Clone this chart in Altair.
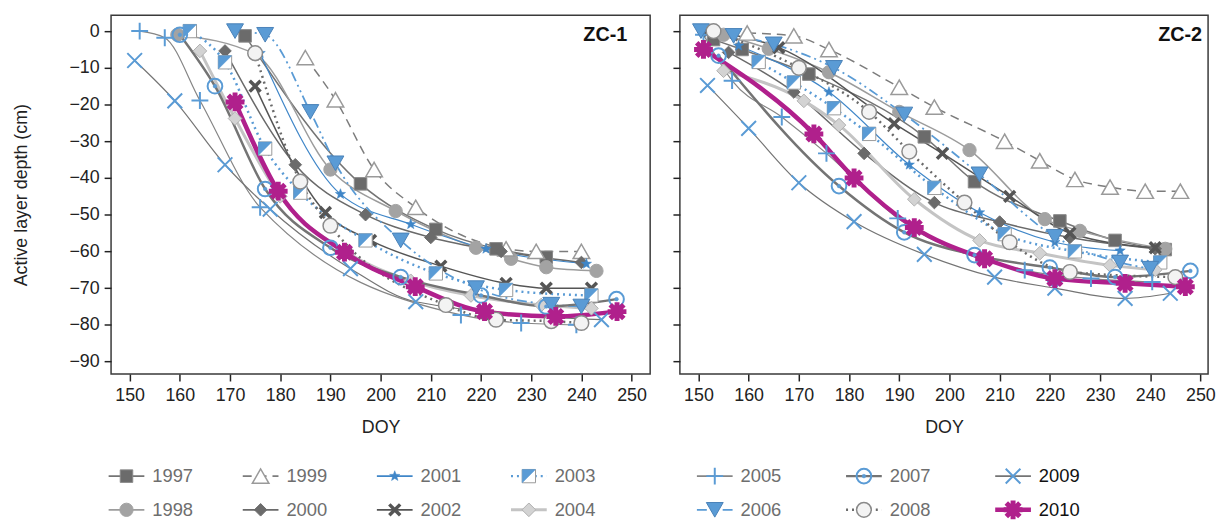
import altair as alt
import pandas as pd

FONT = "Liberation Sans"
years = [1997, 1998, 1999, 2000, 2001, 2002, 2003, 2004, 2005, 2006, 2007, 2008, 2009, 2010]

# ---- ZC-1 : (DOY, active layer depth cm) ----
zc1_1997 = [(173, -1.3), (196, -41.6), (211, -54), (223, -59.3), (233, -61.6)]
zc1_1998 = [(159.5, -1), (175, -6.3), (190, -37.7), (203, -49), (219, -59), (226, -62), (233, -64.3), (243, -65.3)]
zc1_1999 = [(185, -7.2), (191, -18.7), (198.7, -37.7), (207, -48), (225, -59.3), (231, -60), (240, -60)]
zc1_2000 = [(169, -5.4), (183, -36.4), (197, -50), (210, -56.2), (224, -60), (240, -63)]
zc1_2001 = [(176, -6), (192, -44.4), (206, -52.6), (221, -59.3), (241, -63.4)]
zc1_2002 = [(175, -15), (189, -49.4), (198, -57), (212, -64), (225, -68.7), (233, -70), (242, -70)]
zc1_2003 = [(162, 0), (169, -8.5), (177, -32), (184, -44), (197, -57), (211, -66), (225, -70.5), (242, -72)]
zc1_2004 = [(164, -5.4), (171, -23.8), (180, -45), (193, -60), (206, -68), (218, -72), (232, -74.6), (242, -75.5)]
zc1_2005 = [(152, 0), (157, -1.8), (164, -18.9), (176, -48), (216, -77.3), (228, -79.5), (239, -80)]
zc1_2006 = [(171, 0), (177, -1), (186, -22), (191, -36), (204, -57), (219, -70), (234, -74.5), (240, -75)]
zc1_2007 = [(160, -1), (167, -15), (177, -43), (190, -59), (204, -67), (220, -72), (233, -75), (247, -73)]
zc1_2008 = [(175, -6), (184, -41), (190, -53), (213, -74.6), (223, -78.6), (234, -79), (240, -79.5)]
zc1_2009 = [(151, -8), (159, -19), (169, -36.4), (178, -48.5), (194, -64.7), (207, -73.7), (244, -78.6)]
zc1_2010 = [(171, -19.3), (179.6, -43.6), (192.8, -60.2), (206.9, -69.6), (220.7, -76.4), (234.9, -77.7), (247.1, -76.4)]

# ---- ZC-2 ----
zc2_1997 = [(153, -2.3), (158.7, -5), (172, -11.7), (195, -28.8), (205, -41), (222, -51.7), (233, -57), (243, -59.5)]
zc2_1998 = [(155, -1), (164, -4.8), (176, -11.2), (190, -22), (204, -32.4), (219, -51.2), (226, -54.4), (243, -59.3)]
zc2_1999 = [(159.7, -0.5), (169, -1.3), (176, -5), (190, -15.3), (197, -20.7), (211, -30), (218, -35.3), (225, -40.4), (232, -42.5), (239, -43.6), (246, -43.6)]
zc2_2000 = [(156, -5.8), (169, -16.6), (183, -33.3), (197, -46.7), (210, -52), (224, -56.2), (241, -59.3)]
zc2_2001 = [(158, -4), (176, -16.6), (192, -36.4), (206, -49.4), (221, -57.5), (234, -59.8)]
zc2_2002 = [(152, 0), (166, -4.5), (189, -25.2), (198.6, -33.3), (212, -45), (224, -55), (241, -59)]
zc2_2003 = [(162, -8.4), (169, -14), (177, -21), (184, -28), (197, -42.7), (211, -55.3), (225, -60), (242, -63)]
zc2_2004 = [(155, -10.8), (171, -19), (178, -25.6), (193, -45.8), (206, -57), (218, -60.5), (232, -63.8), (241, -65)]
zc2_2005 = [(151, -1), (156.7, -13.5), (166.6, -23.4), (175.5, -33.3), (189.7, -51), (215, -65.1), (228.2, -67.4), (240.4, -68.3)]
zc2_2006 = [(150.5, 0), (157, -1.3), (165, -3.6), (177, -10), (191, -22.7), (206, -39), (221, -56), (234, -63), (240, -64.7)]
zc2_2007 = [(154, -6.7), (178, -42.2), (191, -54.8), (205, -61), (220, -64.4), (233, -67), (248, -65.3)]
zc2_2008 = [(153, 0), (170, -10), (184, -22), (192, -32.8), (203, -46.7), (212, -57.5), (224, -65.6), (245, -67)]
zc2_2009 = [(151.8, -14.8), (160, -26.5), (170, -41.3), (181, -51.9), (195, -60.8), (209, -67), (221, -70), (235, -72.8), (244, -71.4)]
zc2_2010 = [(151, -5), (173, -28), (181, -40), (193, -53.5), (207, -62), (221, -67.4), (235, -68.7), (247, -69.6)]

x_ticks = [150, 160, 170, 180, 190, 200, 210, 220, 230, 240, 250]
y_ticks = [0, -10, -20, -30, -40, -50, -60, -70, -80, -90]

series = {"ZC-1": [zc1_1997, zc1_1998, zc1_1999, zc1_2000, zc1_2001, zc1_2002, zc1_2003,
                   zc1_2004, zc1_2005, zc1_2006, zc1_2007, zc1_2008, zc1_2009, zc1_2010],
          "ZC-2": [zc2_1997, zc2_1998, zc2_1999, zc2_2000, zc2_2001, zc2_2002, zc2_2003,
                   zc2_2004, zc2_2005, zc2_2006, zc2_2007, zc2_2008, zc2_2009, zc2_2010]}

rows = []
for site, lists in series.items():
    for yr, pts in zip(years, lists):
        for i, (d, v) in enumerate(pts):
            rows.append({"site": site, "year": yr, "idx": i, "doy": d, "depth": v})
df = pd.DataFrame(rows)

# ---- styles ----
BLUE = "#5a9bd5"
BLUE2 = "#3f86c8"
MAG = "#b0208c"
STAR = "M0,-1L0.247,-0.34L0.951,-0.309L0.399,0.13L0.588,0.809L0,0.42L-0.588,0.809L-0.399,0.13L-0.951,-0.309L-0.247,-0.34Z"
PLUS = "M-1,0L1,0M0,-1L0,1"
XPATH = "M-1,-1L1,1M-1,1L1,-1"
AST = "M-1,0L1,0M0,-1L0,1M-0.72,-0.72L0.72,0.72M-0.72,0.72L0.72,-0.72"
HALF = "M-1,-1L1,-1L-1,1Z"
HLINE = "M-1,0L1,0"

LINE = {
    1997: dict(color="#747474", strokeWidth=1.5),
    1998: dict(color="#9c9c9c", strokeWidth=1.5),
    1999: dict(color="#7c7c7c", strokeWidth=1.5, strokeDash=[9, 6]),
    2000: dict(color="#6a6a6a", strokeWidth=1.5),
    2001: dict(color=BLUE2, strokeWidth=1.2),
    2002: dict(color="#555555", strokeWidth=1.5),
    2003: dict(color=BLUE, strokeWidth=2.5, strokeDash=[2, 4]),
    2004: dict(color="#c4c4c4", strokeWidth=3),
    2005: dict(color="#858585", strokeWidth=1.2),
    2006: dict(color=BLUE, strokeWidth=1.8, strokeDash=[10, 4, 2, 4, 2, 4]),
    2007: dict(color="#747474", strokeWidth=2.5),
    2008: dict(color="#6a6a6a", strokeWidth=2.5, strokeDash=[2, 4]),
    2009: dict(color="#747474", strokeWidth=1.2),
    2010: dict(color=MAG, strokeWidth=4.5),
}
MARK = {
    1997: [dict(shape="square", size=160, fill="#6b6b6b", stroke="#8a8a8a", strokeWidth=1)],
    1998: [dict(shape="circle", size=180, fill="#a3a3a3", stroke="#a3a3a3", strokeWidth=1)],
    1999: [dict(shape="triangle-up", size=280, fill="white", stroke="#9a9a9a", strokeWidth=1.5)],
    2000: [dict(shape="diamond", size=160, fill="#6b6b6b", stroke="#6b6b6b", strokeWidth=1)],
    2001: [dict(shape=STAR, size=120, fill=BLUE2, stroke=BLUE2, strokeWidth=0.5)],
    2002: [dict(shape=XPATH, size=120, fill="transparent", stroke="#555555", strokeWidth=3.5)],
    2003: [dict(shape="square", size=180, fill="white", stroke="#9a9a9a", strokeWidth=1),
           dict(shape=HALF, size=180, fill=BLUE, stroke=BLUE, strokeWidth=0.5)],
    2004: [dict(shape="diamond", size=190, fill="#d3d3d3", stroke="#b0b0b0", strokeWidth=1)],
    2005: [dict(shape=PLUS, size=290, fill="transparent", stroke=BLUE, strokeWidth=2)],
    2006: [dict(shape="triangle-down", size=290, fill=BLUE, stroke="#4a82b8", strokeWidth=1)],
    2007: [dict(shape="circle", size=220, fill="transparent", stroke=BLUE, strokeWidth=2),
           dict(shape="circle", size=14, fill=BLUE, stroke=BLUE, strokeWidth=0.5)],
    2008: [dict(shape="circle", size=220, fill="#f3f3f3", stroke="#8a8a8a", strokeWidth=1.5)],
    2009: [dict(shape=XPATH, size=220, fill="transparent", stroke=BLUE, strokeWidth=2)],
    2010: [dict(shape=AST, size=360, fill="transparent", stroke=MAG, strokeWidth=5)],
}

H = 362
PXDAY = 544 / (253.7 - 146.3)


def panel(site, first):
    width = 544 if first else 533
    x_max = 146.3 + width / PXDAY
    base = alt.Chart(df).transform_filter(alt.datum.site == site)
    xenc = alt.X("doy:Q", scale=alt.Scale(domain=[146.3, x_max], nice=False, zero=False),
                 axis=alt.Axis(values=x_ticks, title="DOY", labelPadding=6, titlePadding=14))
    if first:
        yax = alt.Axis(values=y_ticks, title="Active layer depth (cm)", labelPadding=5, titlePadding=39)
    else:
        yax = alt.Axis(values=y_ticks, title=None, labels=False)
    yenc = alt.Y("depth:Q", scale=alt.Scale(domain=[-93.4, 4.3], nice=False, zero=False), axis=yax)
    layers = []
    for yr in years:
        layers.append(base.transform_filter(alt.datum.year == yr)
                      .mark_line(interpolate="monotone", **LINE[yr])
                      .encode(x=xenc, y=yenc, order="idx:Q"))
    for yr in years:
        for m in MARK[yr]:
            layers.append(base.transform_filter(alt.datum.year == yr)
                          .mark_point(opacity=1, **m)
                          .encode(x=xenc, y=yenc))
    label = alt.Chart(pd.DataFrame({"site": [site]})).mark_text(
        align="right", baseline="middle", fontSize=20, fontWeight="bold", font=FONT, color="#111111"
    ).encode(text="site:N", x=alt.value(521 if first else 527), y=alt.value(20))
    layers.append(label)
    return alt.layer(*layers).properties(
        width=width, height=H,
        view=alt.ViewBackground(stroke="#3a3a3a", strokeWidth=1.5),
    )


left = panel("ZC-1", True)
right = panel("ZC-2", False)

# ---- legend (built from the years list) ----
leg_df = pd.DataFrame({"year": years, "i": list(range(len(years)))})
lbase = alt.Chart(leg_df).transform_calculate(
    col="floor(datum.i / 2)", row="datum.i % 2"
).transform_calculate(
    pos="datum.col < 4 ? datum.col : 4.386 + (datum.col - 4) * 1.112"
)
lx = alt.X("pos:Q", scale=alt.Scale(domain=[-0.115, 7.0], nice=False, zero=False), axis=None)
ly = alt.Y("row:O", scale=alt.Scale(type="point", padding=0), axis=None)
leg_layers = []
for yr in years:
    ls = dict(LINE[yr])
    col = ls.pop("color")
    sw = max(ls.pop("strokeWidth"), 1.8)
    leg_layers.append(lbase.transform_filter(alt.datum.year == yr)
                      .mark_point(shape=HLINE, size=1300, opacity=1, fill="transparent",
                                  stroke=col, strokeWidth=sw, **ls)
                      .encode(x=lx, y=ly))
for yr in years:
    for m in MARK[yr]:
        leg_layers.append(lbase.transform_filter(alt.datum.year == yr)
                          .mark_point(opacity=1, **m).encode(x=lx, y=ly))
leg_layers.append(lbase.mark_text(align="left", baseline="middle", dx=26, fontSize=18.5, font=FONT)
                  .encode(x=lx, y=ly, text="year:N",
                          color=alt.condition(alt.datum.year >= 2009, alt.value("#111111"),
                                              alt.value("#6e6e6e"))))
legend = alt.layer(*leg_layers).properties(width=963, height=34,
                                            view=alt.ViewBackground(stroke="transparent"))

chart = alt.vconcat(
    alt.hconcat(left, right, spacing=20),
    legend,
    spacing=25,
).properties(
    padding={"left": 3, "top": 4, "right": 0, "bottom": 0}
).configure_view(stroke="transparent").configure_axis(
    grid=False, domain=False, tickColor="#222222", tickWidth=1.5, tickSize=7,
    labelFont=FONT, labelFontSize=18, labelColor="#222222",
    titleFont=FONT, titleFontSize=18, titleFontWeight="normal", titleColor="#222222",
)

chart.save("out.html", embed_options={"renderer": "svg", "actions": False})
